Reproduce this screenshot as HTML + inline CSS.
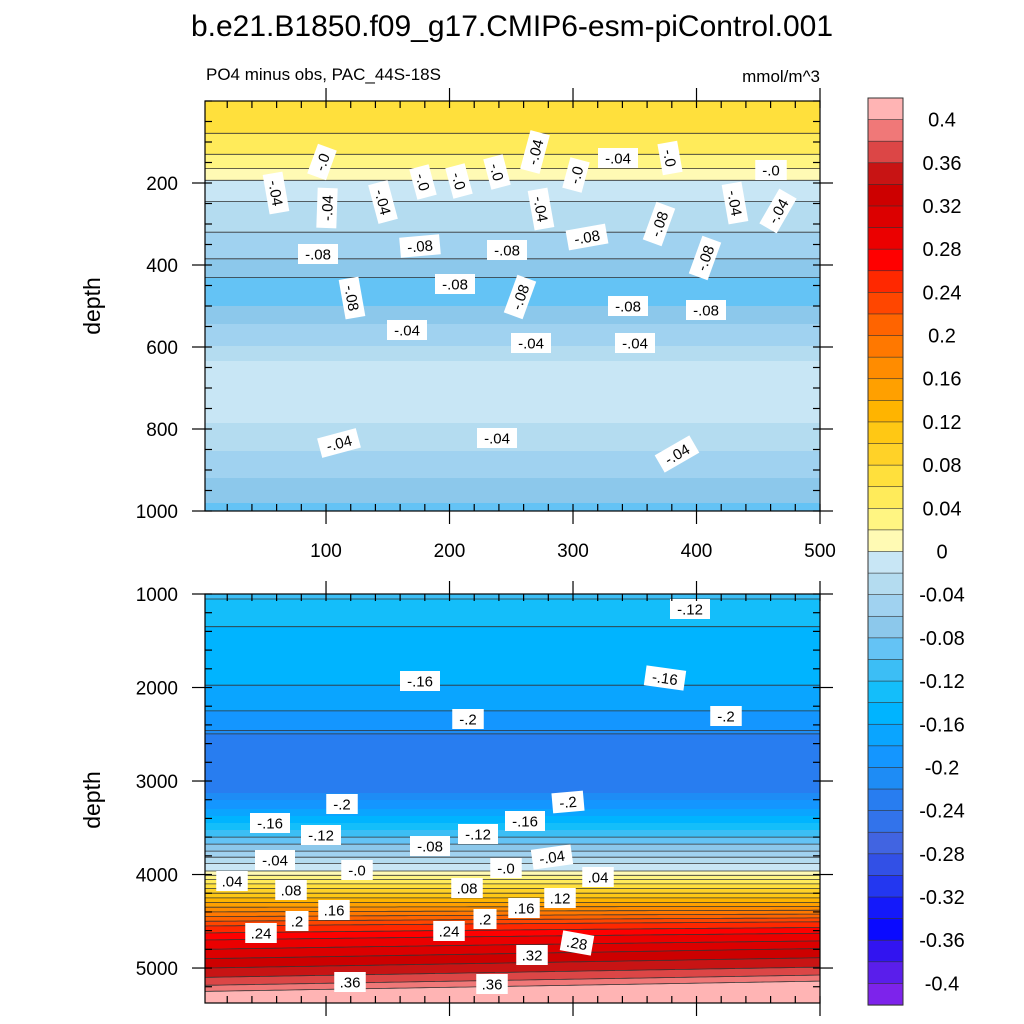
<!DOCTYPE html>
<html><head><meta charset="utf-8"><style>
html,body{margin:0;padding:0;background:#fff;}
svg{display:block;font-family:"Liberation Sans",sans-serif;}
</style></head><body>
<svg id="svg" width="1024" height="1024" xmlns="http://www.w3.org/2000/svg">
<text x="512" y="36" font-size="30" text-anchor="middle">b.e21.B1850.f09_g17.CMIP6-esm-piControl.001</text>
<text x="206" y="80" font-size="17">PO4 minus obs, PAC_44S-18S</text>
<text x="820" y="82" font-size="17" text-anchor="end">mmol/m^3</text>
<text transform="translate(100,306) rotate(-90)" font-size="23" text-anchor="middle">depth</text>
<text transform="translate(100,800) rotate(-90)" font-size="23" text-anchor="middle">depth</text>
<g id="top"></g>
<g id="bot"></g>
<g id="cbar"></g>
</svg>
<script>
// colorbar levels and colors (top to bottom)
const cbColors = ["#ffb4b4","#f07878","#dc4646","#c81414","#cd0000","#dc0000","#eb0000","#ff0000","#ff2800","#ff4600","#ff6400","#ff7800","#ff8c00","#ffa000","#ffb400","#ffc814","#ffd228","#ffe03c","#ffeb5a","#fff582","#fffab4","#c8e6f5","#b4dcf0","#a0d2f0","#8cc8eb","#64c3f5","#3cbef5","#14befa","#00b4ff","#0aa5ff","#1496ff","#1e8cf5","#287df0","#3273eb","#4164e1","#3250e6","#2337f0","#1419fa","#0a0aff","#3214f0","#5a1eeb","#7d23eb"];
const cbLabels = ["0.4","0.36","0.32","0.28","0.24","0.2","0.16","0.12","0.08","0.04","0","-0.04","-0.08","-0.12","-0.16","-0.2","-0.24","-0.28","-0.32","-0.36","-0.4"];
// top panel profile (depth m, value)
const topDepths = [0,60,110,150,180,200,260,340,400,430,460,490,520,555,590,615,650,700,760,800,860,920,960,1000];
const topValues = [0.062,0.066,0.05,0.03,0.01,-0.005,-0.025,-0.045,-0.065,-0.08,-0.09,-0.085,-0.07,-0.055,-0.045,-0.03,-0.012,-0.008,-0.012,-0.025,-0.042,-0.06,-0.075,-0.085];
// bottom panel profile
const botDepths = [1000,1080,1300,1400,1950,2000,2200,2300,2450,2500,3100,3200,3300,3450,3600,3750,3880,3963,4100,4250,4400,4550,4700,4850,5000,5150,5220,5280,5380];
const botValues = [-0.11,-0.125,-0.135,-0.145,-0.155,-0.165,-0.175,-0.185,-0.195,-0.222,-0.23,-0.2,-0.18,-0.14,-0.1,-0.06,-0.02,0,0.06,0.12,0.18,0.24,0.28,0.31,0.34,0.37,0.39,0.41,0.43];
const topLabels = [["-.0",322,162,-70],["-.04",276,193,80],["-.04",327,208,-88],["-.04",383,202,75],["-.0",423,182,75],["-.0",459,181,75],["-.0",497,172,75],["-.04",535,152,-75],["-.04",541,209,80],["-.0",576,175,-75],["-.04",618,158,0],["-.0",670,158,80],["-.0",771,170,0],["-.04",735,203,80],["-.04",778,211,-60],["-.08",318,254,0],["-.08",420,246,-5],["-.08",507,250,0],["-.08",587,237,-10],["-.08",659,224,-70],["-.08",705,258,-70],["-.08",455,284,0],["-.08",352,298,80],["-.08",520,297,-70],["-.08",628,306,0],["-.08",706,310,0],["-.04",407,330,0],["-.04",531,343,0],["-.04",635,343,0],["-.04",339,443,-15],["-.04",497,438,0],["-.04",677,454,-30]];
const botLabels = [["-.12",690,609,0],["-.16",420,681,0],["-.16",665,678,8],["-.2",468,719,0],["-.2",726,716,0],["-.2",342,804,0],["-.2",568,802,-5],["-.16",270,823,0],["-.12",321,835,0],["-.12",478,834,0],["-.16",525,821,0],["-.08",430,846,0],["-.0",357,870,0],["-.0",506,868,0],["-.04",275,860,0],["-.04",552,857,-8],[".04",232,881,0],[".04",598,877,0],[".08",291,890,0],[".08",467,888,0],[".16",334,910,0],[".16",524,908,0],[".12",560,898,0],[".2",297,921,0],[".2",485,919,0],[".24",261,933,0],[".24",449,931,0],[".32",532,955,0],[".28",577,943,10],[".36",350,982,0],[".36",492,984,0]];
const xTicks = [100,200,300,400,500];
const topYTicks = [200,400,600,800,1000];
const botYTicks = [1000,2000,3000,4000,5000];

const NS="http://www.w3.org/2000/svg";
function mk(tag,attrs,parent){const e=document.createElementNS(NS,tag);for(const k in attrs)e.setAttribute(k,attrs[k]);parent.appendChild(e);return e;}
function interp(ds,vs,d){if(d<=ds[0])return vs[0];for(let i=1;i<ds.length;i++){if(d<=ds[i]){const t=(d-ds[i-1])/(ds[i]-ds[i-1]);return vs[i-1]+t*(vs[i]-vs[i-1]);}}return vs[vs.length-1];}
function colorFor(v){let k=Math.floor((0.42-v)/0.02);k=Math.max(0,Math.min(41,k));return cbColors[k];}
const X0=205,X1=820,xMin=2,xMax=500;
const xS=v=>X0+(v-xMin)*(X1-X0)/(xMax-xMin);

function panel(g,y0,y1,dMin,dMax,ds,vs,tilt,labels,yTicks,minorY,showXLabels){
  const yS=d=>y0+(d-dMin)*(y1-y0)/(dMax-dMin);
  const colW=5;
  const val=(x,d)=>{let dd=d;if(tilt){const s=Math.max(0,Math.min(1,(d-4300)/500));dd=d+((x-X0)/(X1-X0))*110*s;}return interp(ds,vs,dd);};
  const fill=mk('g',{},g);
  
  
  const cols = tilt?Math.ceil((X1-X0)/colW):1;
  const w = tilt?colW:(X1-X0);
  for(let c=0;c<cols;c++){
    const x=X0+c*w;
    let prevCol=null,startY=y0;
    for(let y=y0;y<=y1;y++){
      const d=dMin+(y+0.5-y0)*(dMax-dMin)/(y1-y0);
      const col=colorFor(val(x+w/2,d));
      if(prevCol!==null&&col!==prevCol){mk('rect',{x:x,y:startY,width:w+0.5,height:y-startY+0.5,fill:prevCol},fill);startY=y;}
      prevCol=col;
    }
    mk('rect',{x:x,y:startY,width:w+0.5,height:y1-startY,fill:prevCol},fill);
  }
  const lines=mk('g',{stroke:'#333',"stroke-width":0.8,fill:'none'},g);
  
  
  for(let L=-0.4;L<=0.401;L+=0.02){
    let pts=[];
    for(let x=X0;x<=X1;x+=5){
      let py=null;
      for(let y=y0;y<y1;y++){
        const d1=dMin+(y-y0)*(dMax-dMin)/(y1-y0),d2=dMin+(y+1-y0)*(dMax-dMin)/(y1-y0);
        const a=val(x,d1)-L,b=val(x,d2)-L;
        if(a*b<0){py=y+a/(a-b);break;}
      }
      if(py!==null)pts.push(x+','+py.toFixed(1));
    }
    if(pts.length>1){const p=mk('polyline',{points:pts.join(' ')},lines);
      
      }
  }
  labels.forEach(l=>{
    const gg=mk('g',{transform:`translate(${l[1]},${l[2]}) rotate(${l[3]})`},g);
    
    
    const w2=l[0].length*8.5+6;
    mk('rect',{x:-w2/2,y:-10,width:w2,height:20,fill:'#fff'},gg);
    const t=mk('text',{x:0,y:5.5,"font-size":15,"text-anchor":"middle"},gg);t.textContent=l[0];
  });
  const fr=mk('rect',{x:X0,y:y0,width:X1-X0,height:y1-y0,fill:'none',stroke:'#000',"stroke-width":1.2},g);
  
  
  const ax=mk('g',{stroke:'#000',"stroke-width":1.2},g);
  
  
  for(let v=20;v<=500;v+=20){const x=xS(v);
    mk('line',{x1:x,x2:x,y1:y1,y2:y1-7},ax);mk('line',{x1:x,x2:x,y1:y0,y2:y0+7},ax);}
  xTicks.forEach(v=>{const x=xS(v);mk('line',{x1:x,x2:x,y1:y1,y2:y1+13},ax);mk('line',{x1:x,x2:x,y1:y0,y2:y0-13},ax);
    if(showXLabels){const t=mk('text',{x:x,y:y1+46,"font-size":19,"text-anchor":"middle",stroke:'none'},g);t.textContent=v;
      
      }});
  for(let d=Math.ceil(dMin/minorY)*minorY;d<=dMax;d+=minorY){const y=yS(d);
    mk('line',{x1:X0,x2:X0+7,y1:y,y2:y},ax);mk('line',{x1:X1,x2:X1-7,y1:y,y2:y},ax);}
  yTicks.forEach(d=>{const y=yS(d);mk('line',{x1:X0,x2:X0-13,y1:y,y2:y},ax);mk('line',{x1:X1,x2:X1+13,y1:y,y2:y},ax);
    const t=mk('text',{x:178,y:y+7,"font-size":19,"text-anchor":"end"},g);t.textContent=d;
    
    });
}
panel(document.getElementById('top'),101,511,0,1000,topDepths,topValues,false,topLabels,topYTicks,50,true);
panel(document.getElementById('bot'),594,1003,1000,5374,botDepths,botValues,true,botLabels,botYTicks,200,false);

const cb=document.getElementById('cbar');
const cbY0=98,bh=907/42;
cbColors.forEach((c,i)=>{const r=mk('rect',{x:868,y:cbY0+i*bh,width:35,height:bh+0.3,fill:c,stroke:'#333',"stroke-width":0.6},cb);
  
  });
mk('rect',{x:868,y:cbY0,width:35,height:907,fill:'none',stroke:'#333',"stroke-width":1},cb);
cbLabels.forEach((l,i)=>{const y=cbY0+(1+2*i)*bh;
  const t=mk('text',{x:942,y:y+7,"font-size":20,"text-anchor":"middle"},cb);t.textContent=l;
  
  });
</script>
</body></html>
